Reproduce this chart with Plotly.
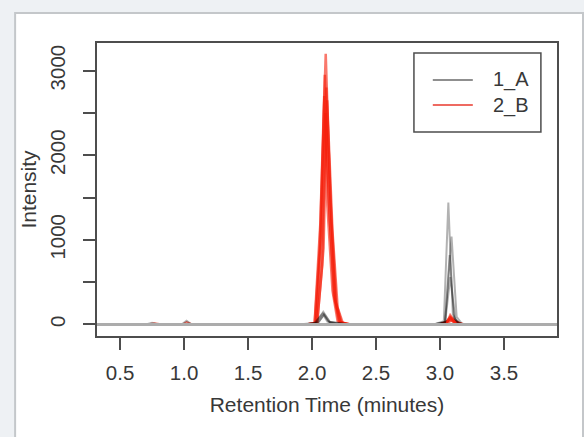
import plotly.graph_objects as go

# ---- chromatogram data: retention time (min) and intensity per injection ----
# Group 1_A
a1_rt = [0.45, 0.70, 0.75, 0.80, 0.98, 1.02, 1.06, 1.90, 2.03, 2.088, 2.14, 2.30, 2.95, 3.03, 3.065, 3.10, 3.14, 3.18, 3.78]
a1_int = [0, 0, 20, 0, 0, 45, 0, 0, 20, 150, 30, 0, 0, 40, 1440, 120, 10, 0, 0]

a2_rt = [0.45, 1.95, 2.02, 2.085, 2.13, 2.25, 2.95, 3.04, 3.09, 3.13, 3.17, 3.20, 3.78]
a2_int = [0, 0, 20, 130, 30, 0, 0, 30, 1040, 90, 10, 0, 0]

a3_rt = [0.45, 2.00, 2.05, 2.095, 2.14, 2.22, 2.95, 3.04, 3.075, 3.11, 3.15, 3.18, 3.78]
a3_int = [0, 0, 25, 120, 25, 0, 0, 30, 820, 80, 10, 0, 0]

a4_rt = [0.45, 2.00, 2.05, 2.09, 2.12, 2.28, 2.95, 3.04, 3.08, 3.12, 3.16, 3.19, 3.78]
a4_int = [0, 0, 30, 110, 35, 0, 0, 25, 560, 60, 10, 0, 0]

# Group 2_B
b1_rt = [0.45, 0.72, 0.77, 0.82, 0.99, 1.02, 1.06, 1.95, 2.02, 2.06, 2.107, 2.14, 2.18, 2.22, 2.30, 3.00, 3.06, 3.08, 3.11, 3.15, 3.18, 3.78]
b1_int = [0, 0, 12, 0, 0, 25, 0, 0, 10, 900, 3200, 1600, 300, 20, 0, 0, 40, 110, 50, 8, 0, 0]

b2_rt = [0.45, 1.95, 2.03, 2.07, 2.100, 2.13, 2.17, 2.21, 2.28, 3.00, 3.05, 3.08, 3.12, 3.16, 3.19, 3.78]
b2_int = [0, 0, 15, 1100, 2950, 1500, 350, 30, 0, 0, 30, 90, 40, 8, 0, 0]

b3_rt = [0.45, 1.95, 2.04, 2.08, 2.112, 2.15, 2.19, 2.23, 2.30, 3.00, 3.05, 3.085, 3.12, 3.16, 3.19, 3.78]
b3_int = [0, 0, 15, 700, 2800, 1300, 250, 25, 0, 0, 25, 70, 30, 8, 0, 0]

b4_rt = [0.45, 1.95, 2.02, 2.065, 2.095, 2.12, 2.16, 2.20, 2.26, 3.00, 3.05, 3.075, 3.11, 3.15, 3.18, 3.78]
b4_int = [0, 0, 12, 1200, 2700, 1400, 400, 40, 0, 0, 20, 60, 25, 8, 0, 0]

b5_rt = [0.45, 1.95, 2.04, 2.09, 2.118, 2.16, 2.20, 2.24, 2.30, 3.00, 3.06, 3.09, 3.13, 3.16, 3.78]
b5_int = [0, 0, 12, 900, 2650, 1100, 200, 20, 0, 0, 20, 50, 10, 0, 0]

b6_rt = [0.45, 1.95, 2.03, 2.075, 2.105, 2.14, 2.18, 2.22, 2.28, 3.00, 3.05, 3.08, 3.12, 3.15, 3.78]
b6_int = [0, 0, 12, 1000, 2500, 1200, 300, 30, 0, 0, 25, 80, 15, 0, 0]

# axis ticks
x_ticks = [0.5, 1.0, 1.5, 2.0, 2.5, 3.0, 3.5]
x_tick_text = ["0.5", "1.0", "1.5", "2.0", "2.5", "3.0", "3.5"]
y_ticks = [0, 500, 1000, 1500, 2000, 2500, 3000]
y_tick_text = ["0", "", "1000", "", "2000", "", "3000"]

# legend entries
legend_names = ["1_A", "2_B"]
legend_colors = ["#6a6a6a", "#e8382c"]

GREY = "rgba(0,0,0,0.30)"
RED = "rgba(245,30,10,0.6)"
FONT = "Liberation Sans, Arial, Helvetica, sans-serif"
TEXT = "#383838"
FRAME = "#4d4d4d"

fig = go.Figure()


def add(rt, inten, color, name, width):
    fig.add_trace(go.Scatter(
        x=rt, y=inten, mode="lines", name=name, showlegend=False,
        line=dict(color=color, width=width), hoverinfo="skip",
    ))


for rt, inten in [(b1_rt, b1_int), (b2_rt, b2_int), (b3_rt, b3_int),
                  (b4_rt, b4_int), (b5_rt, b5_int), (b6_rt, b6_int)]:
    add(rt, inten, RED, "2_B", 2.5)
for rt, inten in [(a1_rt, a1_int), (a2_rt, a2_int), (a3_rt, a3_int), (a4_rt, a4_int)]:
    add(rt, inten, GREY, "1_A", 2)

axis_common = dict(
    showline=True, mirror=True, linecolor=FRAME, linewidth=1.5,
    ticks="outside", ticklen=12, tickwidth=1.5, tickcolor=FRAME,
    showgrid=False, zeroline=False,
    tickfont=dict(family=FONT, size=20.5, color=TEXT),
)

# legend box drawn in paper coordinates
lg_x0, lg_x1, lg_y0, lg_y1 = 0.689, 0.965, 0.696, 0.966
line_x0, line_x1, text_x = 0.730, 0.817, 0.857
row_y = [0.874, 0.788]

shapes = [
    # white card behind the chart
    dict(type="rect", xref="paper", yref="paper",
         x0=-0.178, x1=1.0565, y0=-0.40, y1=1.1024,
         fillcolor="white", line=dict(color="#c4c7ca", width=2),
         layer="below"),
    # zero-intensity reference line
    dict(type="line", xref="paper", yref="y", x0=0, x1=1, y0=0, y1=0,
         line=dict(color="#acacac", width=3), layer="above"),
    dict(type="rect", xref="paper", yref="paper",
         x0=lg_x0, x1=lg_x1, y0=lg_y0, y1=lg_y1,
         fillcolor="rgba(255,255,255,0)", line=dict(color=FRAME, width=1.5)),
]
annotations = []
for name, col, yy in zip(legend_names, legend_colors, row_y):
    shapes.append(dict(type="line", xref="paper", yref="paper",
                       x0=line_x0, x1=line_x1, y0=yy, y1=yy,
                       line=dict(color=col, width=1.5)))
    annotations.append(dict(xref="paper", yref="paper", x=text_x, y=yy,
                            xanchor="left", yanchor="middle", text=name,
                            showarrow=False,
                            font=dict(family=FONT, size=20, color=TEXT)))

fig.update_layout(
    width=584, height=437,
    margin=dict(l=97, r=27, t=43, b=101, autoexpand=False),
    paper_bgcolor="#eef1f4",
    plot_bgcolor="white",
    showlegend=False,
    font=dict(family=FONT, size=20, color=TEXT),
    xaxis=dict(
        range=[0.32, 3.914], tickvals=x_ticks, ticktext=x_tick_text,
        ticklabelstandoff=6,
        title=dict(text="Retention Time (minutes)", standoff=14,
                   font=dict(family=FONT, size=21, color=TEXT)),
        **axis_common,
    ),
    yaxis=dict(
        range=[-136, 3327], tickvals=y_ticks, ticktext=y_tick_text,
        tickangle=-90, ticklabelstandoff=10,
        title=dict(text="Intensity", standoff=4,
                   font=dict(family=FONT, size=21, color=TEXT)),
        **axis_common,
    ),
    shapes=shapes,
    annotations=annotations,
)

fig.write_html("out.html")
